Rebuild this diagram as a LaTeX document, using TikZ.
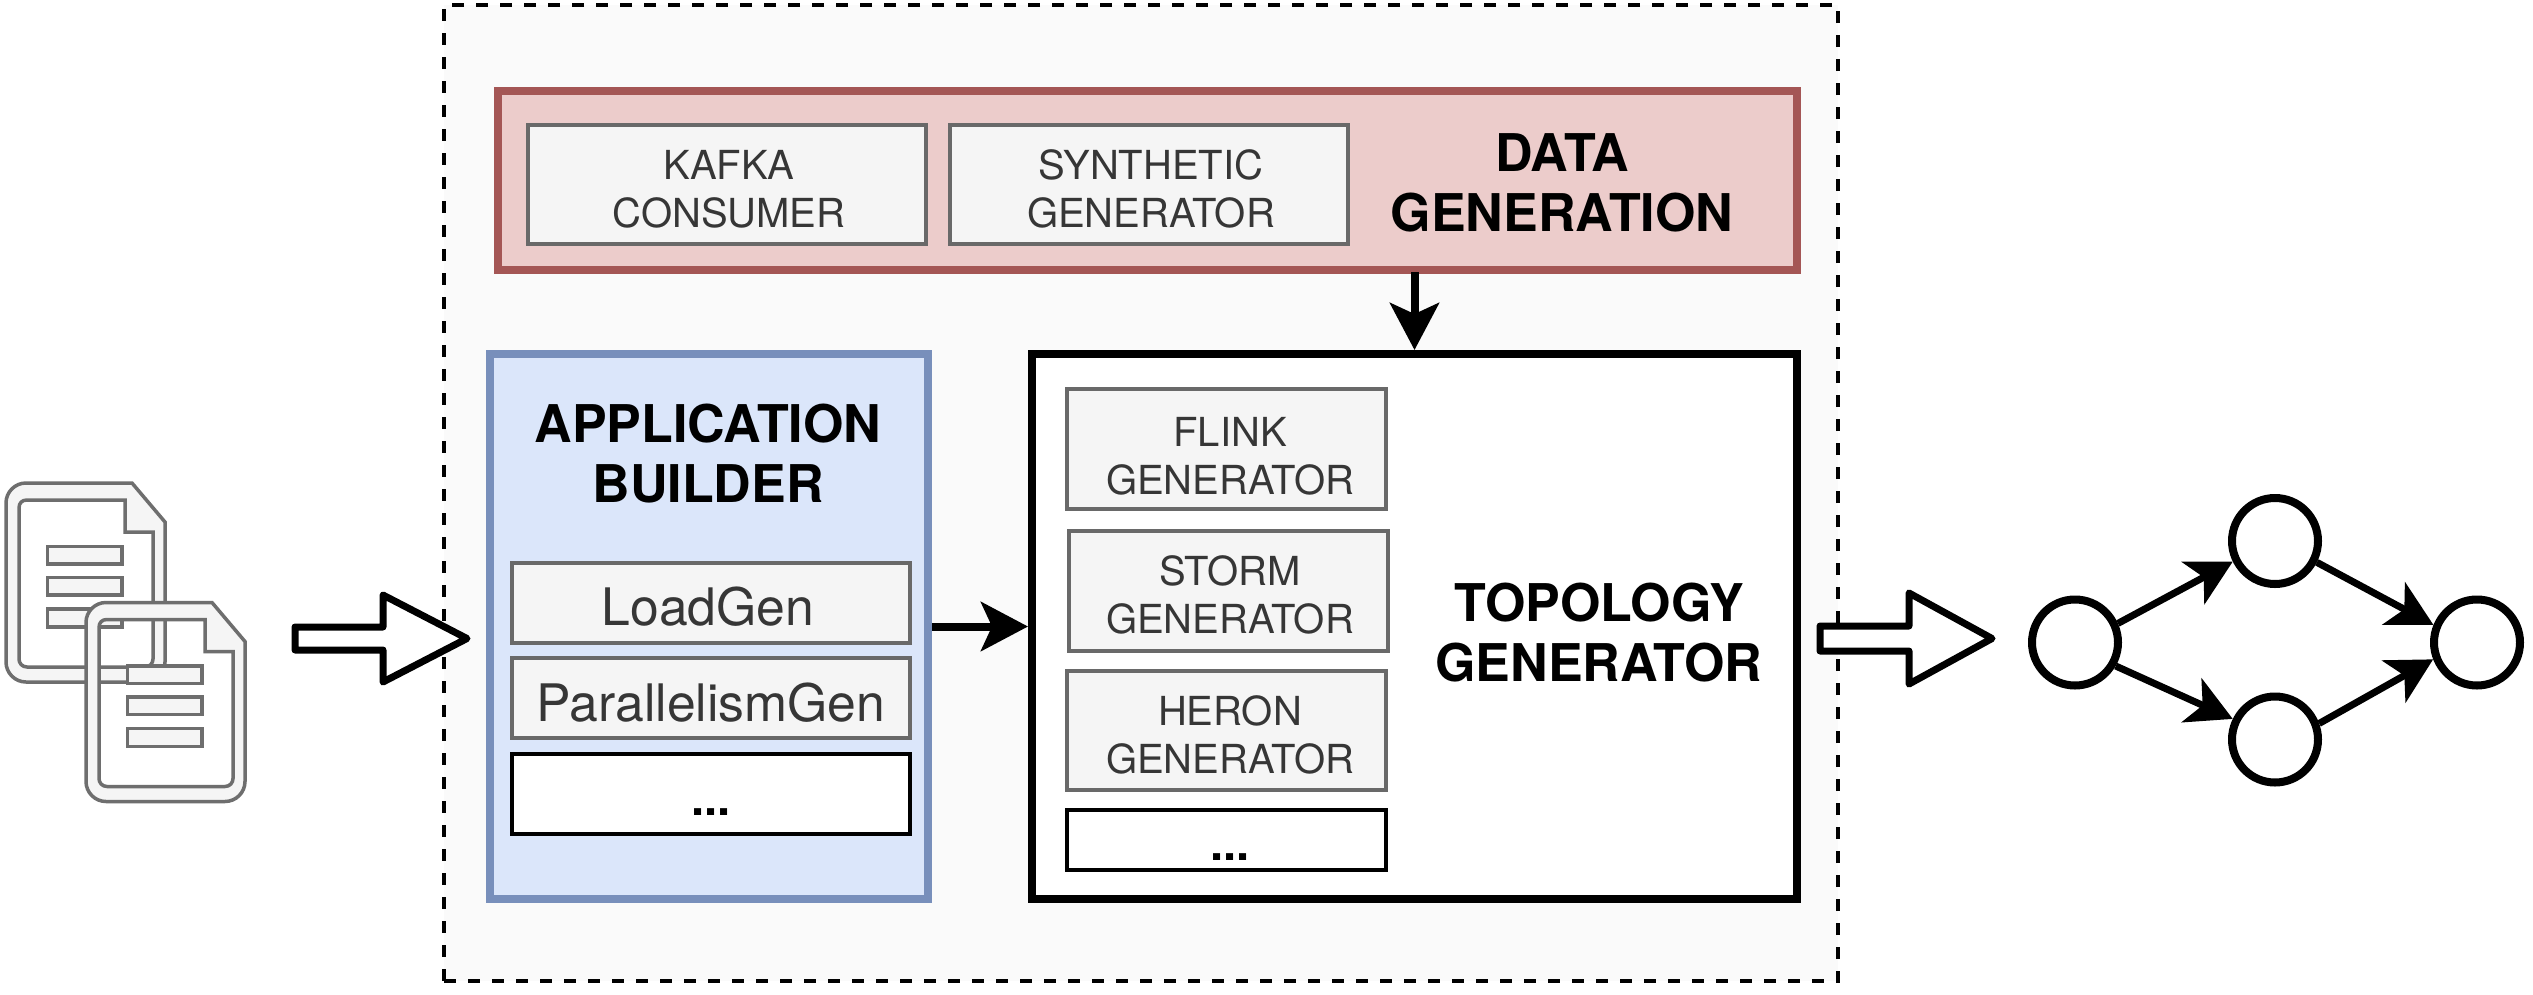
\documentclass[tikz,border=0pt]{standalone}
\usepackage{fontspec}
\setmainfont{TeX Gyre Heros}
\usetikzlibrary{arrows.meta}
\definecolor{framefill}{HTML}{FAFAFA}
\definecolor{redfill}{HTML}{ECCCCB}
\definecolor{redline}{HTML}{A45655}
\definecolor{bluefill}{HTML}{DBE6FA}
\definecolor{blueline}{HTML}{788FBB}
\definecolor{genfill}{HTML}{F5F5F5}
\definecolor{genline}{HTML}{696969}
\definecolor{gentext}{HTML}{363636}
\definecolor{docline}{HTML}{6E6E6E}
% text placed by baseline: x offset, baseline(s) below the node centre
\newcommand{\oneline}[3]{\raisebox{-#2pt}[0pt][0pt]{\makebox[0pt]{\hspace*{\dimexpr #1pt*2\relax}#3}}}
\newcommand{\twolines}[5]{\raisebox{-#2pt}[0pt][0pt]{\makebox[0pt]{\hspace*{\dimexpr #1pt*2\relax}#4}}\raisebox{-#3pt}[0pt][0pt]{\makebox[0pt]{\hspace*{\dimexpr #1pt*2\relax}#5}}}
\tikzset{
  x=1pt,y=-1pt,
  every node/.style={inner sep=0pt,outer sep=0pt},
  framebox/.style={draw=black,fill=framefill,line width=3.5pt,dash pattern=on 12pt off 12pt},
  databox/.style={draw=redline,fill=redfill,line width=8pt,outer sep=4pt},
  appbox/.style={draw=blueline,fill=bluefill,line width=8pt,outer sep=4pt},
  topobox/.style={draw=black,fill=white,line width=8pt,outer sep=4pt},
  genbox/.style={draw=genline,fill=genfill,line width=4pt,text=gentext,font=\fontsize{40}{48}\selectfont},
  genbig/.style={genbox,font=\fontsize{51.7}{60}\selectfont},
  morebox/.style={draw=black,fill=white,line width=4pt,font=\fontsize{47}{60}\selectfont\bfseries},
  titletext/.style={font=\fontsize{52}{60}\selectfont\bfseries,text=black},
  conn/.style={draw=black,line width=8pt,-{Stealth[length=47pt,width=49pt,inset=11pt]}},
  graphedge/.style={draw=black,line width=7pt,-{Stealth[length=45pt,width=48pt,inset=12pt]}},
  vertex/.style={circle,draw=black,fill=white,line width=8pt,minimum size=86pt,outer sep=4pt},
  bigarrow/.style={draw=black,fill=white,line width=7pt,line join=round},
  docshape/.style={draw=docline,fill=genfill,line width=3.5pt,even odd rule},
  docbar/.style={draw=docline,fill=genfill,line width=3.5pt},
  docicon/.pic={
    \path[docshape]
      (132,483) -- (165,522) -- (165,662) .. controls (165,673) and (156,682) .. (145,682)
      -- (26,682) .. controls (15,682) and (6,673) .. (6,662)
      -- (6,503) .. controls (6,492) and (15,483) .. (26,483) -- cycle
      (125,500) -- (125,532) -- (153,532) -- (153,659) .. controls (153,663) and (150,667) .. (145,667)
      -- (27,667) .. controls (22,667) and (19,663) .. (19,659)
      -- (19,508) .. controls (19,503) and (22,500) .. (27,500) -- cycle;
    \path[docbar] (47.5,546.5) rectangle (122,564);
    \path[docbar] (47.5,577.5) rectangle (122,595);
    \path[docbar] (47.5,609) rectangle (122,627);
  }
}
\begin{document}
\begin{tikzpicture}
\useasboundingbox (0,0) rectangle (2533,994);
\fill[white] (0,0) rectangle (2533,994);

\node[framebox,minimum width=1394pt,minimum height=976pt] (frame) at (1141,493) {};

% data generation
\node[databox,minimum width=1299pt,minimum height=179pt] (data) at (1147.5,180.5) {};
\node[genbox,minimum width=398pt,minimum height=119pt] (kafka) at (727,184.5)
  {\twolines{2}{-5.5}{42.5}{KAFKA}{CONSUMER}};
\node[genbox,minimum width=398pt,minimum height=119pt] (synth) at (1149,184.5)
  {\twolines{2}{-5.5}{42.5}{SYNTHETIC}{GENERATOR}};
\node[titletext] (datat) at (1562,200) {\twolines{0}{-29}{31}{DATA}{GENERATION}};

% application builder
\node[appbox,minimum width=438pt,minimum height=545pt] (app) at (709,626.5) {};
\node[titletext] (appt) at (708,470) {\twolines{0}{-28}{32}{APPLICATION}{BUILDER}};
\node[genbig,minimum width=398pt,minimum height=80pt] (load) at (711,603) {\oneline{-3}{22}{LoadGen}};
\node[genbig,minimum width=398pt,minimum height=80pt] (para) at (711,698) {\oneline{0}{23}{ParallelismGen}};
\node[morebox,minimum width=398pt,minimum height=80pt] (appmore) at (711,794) {\oneline{0}{21}{...}};

% topology generator
\node[topobox,minimum width=765pt,minimum height=545pt] (topo) at (1414.5,626.5) {};
\node[titletext] (topot) at (1599,650) {\twolines{0}{-29}{31}{TOPOLOGY}{GENERATOR}};
\node[genbox,minimum width=319pt,minimum height=120pt] (flink) at (1226.5,449)
  {\twolines{3.5}{-3}{45}{FLINK}{GENERATOR}};
\node[genbox,minimum width=319pt,minimum height=120pt] (storm) at (1228.5,591)
  {\twolines{1.5}{-6}{42}{STORM}{GENERATOR}};
\node[genbox,minimum width=319pt,minimum height=119pt] (heron) at (1226.5,730.5)
  {\twolines{3.5}{-5.5}{42.5}{HERON}{GENERATOR}};
\node[morebox,minimum width=319pt,minimum height=60pt] (topomore) at (1226.5,840) {\oneline{3.5}{20}{...}};

\draw[conn] ([yshift=2pt]data.south -| topo.north) -- (topo.north);
\draw[conn] (app.east) -- (topo.west);

% input documents
\pic at (0,0) {docicon};
\pic at (80,119.5) {docicon};

% block arrows
\path[bigarrow] (295,627) -- (383,627) -- (383,595) -- (467,638.5) -- (383,682) -- (383,650) -- (295,650) -- cycle;
\path[bigarrow] (1820,626) -- (1909,626) -- (1909,593) -- (1992,638.5) -- (1909,684) -- (1909,651) -- (1820,651) -- cycle;

% output topology
\node[vertex] (src) at (2075,642.5) {};
\node[vertex] (up) at (2275,541) {};
\node[vertex] (down) at (2275,739.5) {};
\node[vertex] (sink) at (2477,642.5) {};
\draw[graphedge] (src.24) -- (up.206);
\draw[graphedge] (src.330) -- (down.154);
\draw[graphedge] (up.333) -- (sink.158);
\draw[graphedge] (down.20) -- (sink.201);
\end{tikzpicture}
\end{document}
